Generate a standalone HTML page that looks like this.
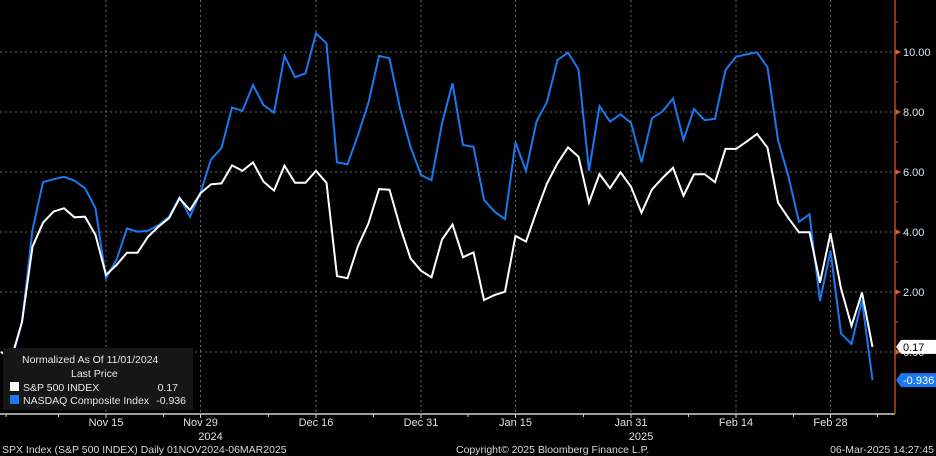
<!DOCTYPE html>
<html><head><meta charset="utf-8"><style>
html,body{margin:0;padding:0;background:#000;width:936px;height:456px;overflow:hidden}
svg text{font-family:"Liberation Sans","DejaVu Sans",sans-serif}
</style></head><body>
<svg id="chart" width="936" height="456" viewBox="0 0 936 456" xmlns="http://www.w3.org/2000/svg">
<rect width="936" height="456" fill="#000"/>
<g id="grid"></g>
<g id="series"></g>
<g id="axes"></g>
<g id="legend">
  <rect x="3" y="348" width="190" height="62" fill="#161616"/>
  <text x="22" y="363" fill="#e8e8e8" font-size="10.5">Normalized As Of 11/01/2024</text>
  <text x="71" y="377" fill="#e8e8e8" font-size="10.5">Last Price</text>
  <rect x="10" y="382" width="9" height="9" fill="#ffffff"/>
  <text x="23" y="391" fill="#e8e8e8" font-size="10.5">S&amp;P 500 INDEX</text>
  <text x="178" y="391" fill="#e8e8e8" font-size="10.5" text-anchor="end">0.17</text>
  <rect x="10" y="395" width="9" height="9" fill="#1a78f0"/>
  <text x="23" y="404" fill="#e8e8e8" font-size="10.5">NASDAQ Composite Index</text>
  <text x="186" y="404" fill="#e8e8e8" font-size="10.5" text-anchor="end">-0.936</text>
</g>
<text x="2" y="453" fill="#d8d8d8" font-size="10.5">SPX Index (S&amp;P 500 INDEX)  Daily 01NOV2024-06MAR2025</text>
<text x="456" y="453" fill="#d8d8d8" font-size="10.5">Copyright© 2025 Bloomberg Finance L.P.</text>
<text x="934" y="453" fill="#d8d8d8" font-size="10.5" text-anchor="end">06-Mar-2025 14:27:45</text>
</svg>
<script>
const spx = [0.0,-0.2,1.0,3.51,4.31,4.68,4.79,4.49,4.51,3.9,2.57,2.9,3.31,3.31,3.84,4.18,4.46,5.12,4.73,5.29,5.59,5.62,6.22,6.04,6.32,5.68,5.38,6.21,5.64,5.64,6.04,5.64,2.53,2.46,3.53,4.29,5.43,5.41,4.18,3.12,2.71,2.49,3.75,4.25,3.16,3.32,1.73,1.9,2.01,3.87,3.68,4.68,5.62,6.29,6.82,6.51,4.98,5.93,5.46,5.99,5.51,4.64,5.42,5.8,6.14,5.21,5.92,5.93,5.66,6.77,6.77,7.01,7.27,6.81,4.98,4.46,3.99,3.99,2.31,3.96,2.12,0.87,1.98,0.17];
const ndx = [0.0,-0.27,1.0,4.07,5.66,5.76,5.84,5.71,5.46,4.79,2.46,3.07,4.12,4.01,4.04,4.23,4.51,5.16,4.51,5.31,6.42,6.8,8.15,8.04,8.9,8.23,7.98,9.87,9.16,9.29,10.62,10.29,6.32,6.26,7.23,8.31,9.87,9.79,8.12,6.84,5.9,5.73,7.62,8.96,6.9,6.84,5.07,4.68,4.43,6.99,6.04,7.68,8.34,9.73,9.98,9.42,6.04,8.2,7.68,7.92,7.64,6.32,7.79,8.02,8.45,7.07,8.1,7.73,7.77,9.4,9.84,9.92,9.99,9.49,7.07,5.84,4.34,4.59,1.7,3.37,0.62,0.27,1.73,-0.936];
const yTicks = [0,2,4,6,8,10];
const yTickLabels = ["0.00","2.00","4.00","6.00","8.00","10.00"];
const xTickIdx = [10,19,30,40,49,60,70,79];
const xTickLabels = ["Nov 15","Nov 29","Dec 16","Dec 31","Jan 15","Jan 31","Feb 14","Feb 28"];
const yearIdx = [19,60];
const yearLabels = ["2024","2025"];
const minorIdx = [0,5,15,25,35,44,55,65,75,83];

const NS="http://www.w3.org/2000/svg";
const X = i => 1 + 10.5*i;
const Y = v => 352 - 30*v;
const AX = 895, BOT = 414;
function mk(tag, attrs, parent){const e=document.createElementNS(NS,tag);for(const k in attrs)e.setAttribute(k,attrs[k]);parent.appendChild(e);return e;}
const grid=document.getElementById('grid'), series=document.getElementById('series'), axes=document.getElementById('axes');

yTicks.forEach((t,k)=>{
  const l=mk('line',{x1:0,x2:AX,y1:Y(t),y2:Y(t),stroke:'#6a6a6a','stroke-width':1,'stroke-dasharray':'2,3'},grid);
  
  
  const p=mk('path',{d:`M${AX} ${Y(t)-3}L${AX+6} ${Y(t)}L${AX} ${Y(t)+3}Z`,fill:'#e0601a'},axes);
  
  
  const tx=mk('text',{x:AX+8,y:Y(t)+4,fill:'#d8e4ee','font-size':11},axes);
  tx.textContent=yTickLabels[k];
  
  
  const m=mk('line',{x1:AX,x2:AX+3,y1:Y(t+1),y2:Y(t+1),stroke:'#e0601a'},axes);
  
  
});
xTickIdx.forEach((i,k)=>{
  const l=mk('line',{x1:X(i),x2:X(i),y1:0,y2:BOT,stroke:'#6a6a6a','stroke-width':1,'stroke-dasharray':'2,3'},grid);
  
  
  const tk=mk('line',{x1:X(i),x2:X(i),y1:BOT,y2:BOT+4,stroke:'#cfcfcf'},axes);
  
  
  const tx=mk('text',{x:X(i),y:426,fill:'#e0e0e0','font-size':11,'text-anchor':'middle'},axes);
  tx.textContent=xTickLabels[k];
  
  
});
minorIdx.forEach(i=>{
  const tk=mk('line',{x1:X(i)+5,x2:X(i)+5,y1:BOT,y2:BOT+3,stroke:'#cfcfcf'},axes);
  
  
});
yearIdx.forEach((i,k)=>{
  const tx=mk('text',{x:X(i)+10,y:440,fill:'#e0e0e0','font-size':11,'text-anchor':'middle'},axes);
  tx.textContent=yearLabels[k];
  
  
});
const bl=mk('line',{x1:0,x2:AX,y1:BOT,y2:BOT,stroke:'#cfcfcf','stroke-width':1.5},axes);


const rl=mk('line',{x1:AX,x2:AX,y1:0,y2:BOT,stroke:'#b8461c','stroke-width':1.5},axes);



function line(arr,color,name){
  const d=arr.map((v,i)=>(i?'L':'M')+X(i).toFixed(1)+' '+Y(v).toFixed(1)).join('');
  const p=mk('path',{d:d,fill:'none',stroke:color,'stroke-width':2,'stroke-linejoin':'miter'},series);
  
  
}
line(ndx,'#1a78f0','nasdaq-line');
line(spx,'#ffffff','spx-line');

function tag(v,bg,fg,name,txt){
  const y=Y(v);
  const g=mk('g',{},axes);
  
  
  mk('path',{d:`M${AX+1} ${y}L${AX+6} ${y-7}L936 ${y-7}L936 ${y+7}L${AX+6} ${y+7}Z`,fill:bg},g);
  const t=mk('text',{x:AX+8,y:y+4,fill:fg,'font-size':11},g);
  t.textContent=txt;
}
tag(spx[spx.length-1],'#ffffff','#000000','spx-last-value-tag',spx[spx.length-1].toFixed(2));
tag(ndx[ndx.length-1],'#1a78f0','#ffffff','nasdaq-last-value-tag',ndx[ndx.length-1].toFixed(3));
</script>
</body></html>
